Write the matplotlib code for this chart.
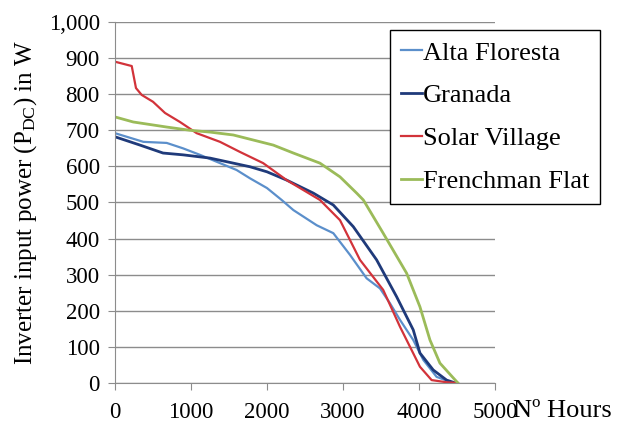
import numpy as np
import matplotlib.pyplot as plt

plt.rcParams['font.family'] = ['Liberation Serif', 'DejaVu Serif']
plt.rcParams['mathtext.default'] = 'regular'

# duration curves: hours sorted by descending DC power
alta_h = [0, 373, 680, 895, 1118, 1382, 1600, 1776, 2000, 2193, 2347, 2654, 2873, 3092,
          3311, 3487, 3618, 3750, 3925, 4057, 4232, 4450]
alta_p = [692, 668, 665, 650, 632, 609, 590, 567, 540, 507, 479, 437, 415, 355,
          290, 262, 221, 175, 119, 64, 17, 0]

granada_h = [0, 329, 632, 895, 1250, 1557, 1776, 2000, 2259, 2610, 2873, 3136, 3443,
             3706, 3925, 4013, 4188, 4364, 4480]
granada_p = [682, 659, 637, 632, 623, 609, 599, 585, 562, 526, 493, 433, 341,
             239, 147, 83, 36, 8, 0]

solar_h = [0, 220, 276, 351, 500, 658, 855, 1075, 1382, 1645, 1950, 2259, 2697, 2961,
           3224, 3529, 3750, 3904, 4013, 4167, 4364, 4513]
solar_p = [890, 878, 817, 798, 779, 748, 723, 692, 668, 640, 609, 562, 507, 451,
           341, 258, 156, 91, 45, 8, 2, 0]

french_h = [0, 240, 680, 987, 1250, 1557, 1820, 2083, 2347, 2697, 2961, 3180, 3268,
            3529, 3838, 4013, 4145, 4276, 4452, 4513]
french_p = [737, 723, 709, 700, 695, 687, 673, 659, 637, 609, 571, 526, 507,
            415, 304, 211, 119, 55, 14, 0]

fig = plt.figure(figsize=(6.21, 4.23), dpi=100)
ax = fig.add_axes([0.1852, 0.0946, 0.797 - 0.1852, 0.948 - 0.0946])

lines = []
lines += ax.plot(alta_h, alta_p, color='#5b8fcb', lw=1.6, label='Alta Floresta')
lines += ax.plot(granada_h, granada_p, color='#1f3a7a', lw=2.0, label='Granada')
lines += ax.plot(solar_h, solar_p, color='#d2333a', lw=1.6, label='Solar Village')
lines += ax.plot(french_h, french_p, color='#9bbb59', lw=2.0, label='Frenchman Flat')

ax.set_xlim(0, 5000)
ax.set_ylim(0, 1000)
ax.set_xticks(np.arange(0, 5001, 1000))
ax.set_yticks(np.arange(0, 1001, 100))
ax.set_yticklabels(['{:,}'.format(v) for v in range(0, 1001, 100)])
ax.yaxis.grid(True, color='#8c8c8c', lw=1.0)
ax.set_axisbelow(True)
for s in ['top', 'right']:
    ax.spines[s].set_visible(False)
for s in ['left', 'bottom']:
    ax.spines[s].set_color('#8c8c8c')
ax.tick_params(colors='#8c8c8c', labelcolor='black', labelsize=16.5, length=5, direction='out')
ax.tick_params(axis='x', pad=9)
ax.tick_params(axis='y', pad=6)

ax.set_ylabel('Inverter input power (P$_{DC}$) in W', fontsize=18, labelpad=7)
fig.text(513 / 621, 1 - 411 / 423, 'Nº Hours', fontsize=19, ha='left', va='center')

leg = fig.legend(handles=lines, loc='upper left', bbox_to_anchor=(390 / 621, 1 - 30 / 423),
                 fontsize=19, frameon=True, fancybox=False, edgecolor='black',
                 framealpha=1, handlelength=0.8, handletextpad=0.02,
                 labelspacing=0.73, borderpad=0.42, borderaxespad=0)
leg.get_frame().set_linewidth(1.0)

fig.savefig('out.png', dpi=100)
